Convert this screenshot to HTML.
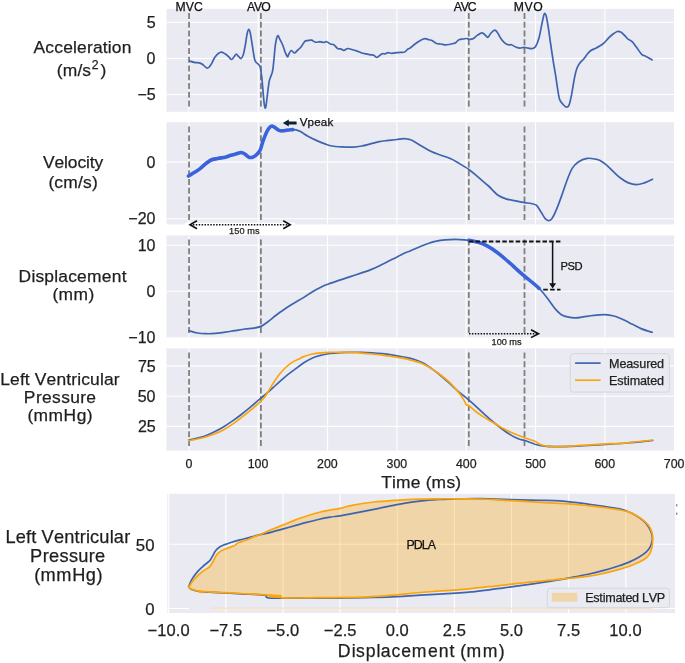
<!DOCTYPE html><html><head><meta charset="utf-8"><style>html,body{margin:0;padding:0;background:#fff;}svg{display:block;will-change:transform}text{font-family:"Liberation Sans",sans-serif;stroke:currentColor;stroke-width:0.25px;paint-order:stroke}</style></head><body>
<svg width="685" height="663" viewBox="0 0 685 663">
<rect x="166.5" y="8.9" width="507.5" height="102.9" fill="#EAEAF2"/>
<clipPath id="c0"><rect x="166.5" y="8.9" width="507.5" height="102.9"/></clipPath>
<line x1="188.90" x2="188.90" y1="8.9" y2="111.8" stroke="#fff" stroke-width="1.1"/>
<line x1="258.23" x2="258.23" y1="8.9" y2="111.8" stroke="#fff" stroke-width="1.1"/>
<line x1="327.56" x2="327.56" y1="8.9" y2="111.8" stroke="#fff" stroke-width="1.1"/>
<line x1="396.89" x2="396.89" y1="8.9" y2="111.8" stroke="#fff" stroke-width="1.1"/>
<line x1="466.22" x2="466.22" y1="8.9" y2="111.8" stroke="#fff" stroke-width="1.1"/>
<line x1="535.55" x2="535.55" y1="8.9" y2="111.8" stroke="#fff" stroke-width="1.1"/>
<line x1="604.88" x2="604.88" y1="8.9" y2="111.8" stroke="#fff" stroke-width="1.1"/>
<rect x="166.5" y="122.2" width="507.5" height="102.2" fill="#EAEAF2"/>
<clipPath id="c1"><rect x="166.5" y="122.2" width="507.5" height="102.2"/></clipPath>
<line x1="188.90" x2="188.90" y1="122.2" y2="224.4" stroke="#fff" stroke-width="1.1"/>
<line x1="258.23" x2="258.23" y1="122.2" y2="224.4" stroke="#fff" stroke-width="1.1"/>
<line x1="327.56" x2="327.56" y1="122.2" y2="224.4" stroke="#fff" stroke-width="1.1"/>
<line x1="396.89" x2="396.89" y1="122.2" y2="224.4" stroke="#fff" stroke-width="1.1"/>
<line x1="466.22" x2="466.22" y1="122.2" y2="224.4" stroke="#fff" stroke-width="1.1"/>
<line x1="535.55" x2="535.55" y1="122.2" y2="224.4" stroke="#fff" stroke-width="1.1"/>
<line x1="604.88" x2="604.88" y1="122.2" y2="224.4" stroke="#fff" stroke-width="1.1"/>
<rect x="166.5" y="235.4" width="507.5" height="102.0" fill="#EAEAF2"/>
<clipPath id="c2"><rect x="166.5" y="235.4" width="507.5" height="102.0"/></clipPath>
<line x1="188.90" x2="188.90" y1="235.4" y2="337.4" stroke="#fff" stroke-width="1.1"/>
<line x1="258.23" x2="258.23" y1="235.4" y2="337.4" stroke="#fff" stroke-width="1.1"/>
<line x1="327.56" x2="327.56" y1="235.4" y2="337.4" stroke="#fff" stroke-width="1.1"/>
<line x1="396.89" x2="396.89" y1="235.4" y2="337.4" stroke="#fff" stroke-width="1.1"/>
<line x1="466.22" x2="466.22" y1="235.4" y2="337.4" stroke="#fff" stroke-width="1.1"/>
<line x1="535.55" x2="535.55" y1="235.4" y2="337.4" stroke="#fff" stroke-width="1.1"/>
<line x1="604.88" x2="604.88" y1="235.4" y2="337.4" stroke="#fff" stroke-width="1.1"/>
<rect x="166.5" y="348.4" width="507.5" height="102.2" fill="#EAEAF2"/>
<clipPath id="c3"><rect x="166.5" y="348.4" width="507.5" height="102.2"/></clipPath>
<line x1="188.90" x2="188.90" y1="348.4" y2="450.6" stroke="#fff" stroke-width="1.1"/>
<line x1="258.23" x2="258.23" y1="348.4" y2="450.6" stroke="#fff" stroke-width="1.1"/>
<line x1="327.56" x2="327.56" y1="348.4" y2="450.6" stroke="#fff" stroke-width="1.1"/>
<line x1="396.89" x2="396.89" y1="348.4" y2="450.6" stroke="#fff" stroke-width="1.1"/>
<line x1="466.22" x2="466.22" y1="348.4" y2="450.6" stroke="#fff" stroke-width="1.1"/>
<line x1="535.55" x2="535.55" y1="348.4" y2="450.6" stroke="#fff" stroke-width="1.1"/>
<line x1="604.88" x2="604.88" y1="348.4" y2="450.6" stroke="#fff" stroke-width="1.1"/>
<line x1="166.5" x2="674.0" y1="22.20" y2="22.20" stroke="#fff" stroke-width="1.1"/>
<line x1="166.5" x2="674.0" y1="58.50" y2="58.50" stroke="#fff" stroke-width="1.1"/>
<line x1="166.5" x2="674.0" y1="94.50" y2="94.50" stroke="#fff" stroke-width="1.1"/>
<line x1="166.5" x2="674.0" y1="162.10" y2="162.10" stroke="#fff" stroke-width="1.1"/>
<line x1="166.5" x2="674.0" y1="218.70" y2="218.70" stroke="#fff" stroke-width="1.1"/>
<line x1="166.5" x2="674.0" y1="245.30" y2="245.30" stroke="#fff" stroke-width="1.1"/>
<line x1="166.5" x2="674.0" y1="291.30" y2="291.30" stroke="#fff" stroke-width="1.1"/>
<line x1="166.5" x2="674.0" y1="365.90" y2="365.90" stroke="#fff" stroke-width="1.1"/>
<line x1="166.5" x2="674.0" y1="396.30" y2="396.30" stroke="#fff" stroke-width="1.1"/>
<line x1="166.5" x2="674.0" y1="426.40" y2="426.40" stroke="#fff" stroke-width="1.1"/>
<line x1="189.05" x2="189.05" y1="13.1" y2="108.3" stroke="#7f7f7f" stroke-width="1.8" stroke-dasharray="6 2.75"/>
<line x1="260.90" x2="260.90" y1="13.1" y2="108.3" stroke="#7f7f7f" stroke-width="1.8" stroke-dasharray="6 2.75"/>
<line x1="468.80" x2="468.80" y1="13.1" y2="108.3" stroke="#7f7f7f" stroke-width="1.8" stroke-dasharray="6 2.75"/>
<line x1="524.50" x2="524.50" y1="13.1" y2="108.3" stroke="#7f7f7f" stroke-width="1.8" stroke-dasharray="6 2.75"/>
<line x1="189.05" x2="189.05" y1="126.4" y2="220.9" stroke="#7f7f7f" stroke-width="1.8" stroke-dasharray="6 2.75"/>
<line x1="260.90" x2="260.90" y1="126.4" y2="220.9" stroke="#7f7f7f" stroke-width="1.8" stroke-dasharray="6 2.75"/>
<line x1="468.80" x2="468.80" y1="126.4" y2="220.9" stroke="#7f7f7f" stroke-width="1.8" stroke-dasharray="6 2.75"/>
<line x1="524.50" x2="524.50" y1="126.4" y2="220.9" stroke="#7f7f7f" stroke-width="1.8" stroke-dasharray="6 2.75"/>
<line x1="189.05" x2="189.05" y1="239.6" y2="333.9" stroke="#7f7f7f" stroke-width="1.8" stroke-dasharray="6 2.75"/>
<line x1="260.90" x2="260.90" y1="239.6" y2="333.9" stroke="#7f7f7f" stroke-width="1.8" stroke-dasharray="6 2.75"/>
<line x1="468.80" x2="468.80" y1="239.6" y2="333.9" stroke="#7f7f7f" stroke-width="1.8" stroke-dasharray="6 2.75"/>
<line x1="524.50" x2="524.50" y1="239.6" y2="333.9" stroke="#7f7f7f" stroke-width="1.8" stroke-dasharray="6 2.75"/>
<line x1="189.05" x2="189.05" y1="352.6" y2="447.1" stroke="#7f7f7f" stroke-width="1.8" stroke-dasharray="6 2.75"/>
<line x1="260.90" x2="260.90" y1="352.6" y2="447.1" stroke="#7f7f7f" stroke-width="1.8" stroke-dasharray="6 2.75"/>
<line x1="468.80" x2="468.80" y1="352.6" y2="447.1" stroke="#7f7f7f" stroke-width="1.8" stroke-dasharray="6 2.75"/>
<line x1="524.50" x2="524.50" y1="352.6" y2="447.1" stroke="#7f7f7f" stroke-width="1.8" stroke-dasharray="6 2.75"/>
<path d="M189.5,61.0 C190.3,61.2 192.5,62.1 194.1,62.4 C195.7,62.7 197.9,62.5 199.3,62.8 C200.7,63.1 201.1,63.4 202.4,64.3 C203.7,65.2 205.9,68.0 207.3,68.1 C208.7,68.2 209.4,67.0 210.7,65.1 C212.0,63.2 213.6,58.9 215.2,56.8 C216.8,54.7 218.9,52.8 220.5,52.3 C222.1,51.8 223.6,53.0 225.0,53.8 C226.4,54.5 227.7,55.8 228.8,56.8 C229.9,57.8 230.6,59.5 231.5,59.5 C232.4,59.5 233.3,57.7 234.1,56.8 C234.9,55.9 235.6,54.1 236.3,54.1 C237.1,54.1 237.8,55.8 238.6,56.5 C239.3,57.2 240.1,58.8 240.8,58.6 C241.6,58.4 242.3,57.6 243.1,55.3 C243.9,53.0 244.7,48.4 245.4,44.7 C246.1,41.1 246.6,36.0 247.2,33.4 C247.8,30.8 248.2,29.4 248.7,29.3 C249.2,29.2 249.6,30.0 250.2,32.6 C250.8,35.2 251.5,40.4 252.2,44.7 C252.9,49.0 253.8,55.4 254.4,58.3 C255.0,61.2 255.3,61.1 255.9,62.1 C256.5,63.1 257.3,63.1 258.0,64.0 C258.7,64.9 259.7,65.1 260.3,67.4 C260.9,69.7 261.3,73.4 261.8,77.9 C262.3,82.4 262.9,90.0 263.3,94.5 C263.7,99.0 264.0,102.9 264.4,105.1 C264.8,107.3 265.2,109.1 265.6,107.8 C266.1,106.5 266.5,102.0 267.1,97.5 C267.7,93.0 268.4,85.2 269.3,80.9 C270.2,76.6 271.6,75.4 272.4,71.9 C273.2,68.4 273.4,64.3 273.9,59.8 C274.4,55.3 274.8,48.7 275.4,44.7 C276.0,40.7 276.9,36.6 277.6,35.7 C278.4,34.8 279.0,37.8 279.9,39.4 C280.8,41.0 282.0,43.4 282.9,45.5 C283.8,47.6 284.4,50.4 285.2,52.3 C286.0,54.2 286.9,56.5 287.5,56.8 C288.1,57.0 288.4,54.8 289.0,53.8 C289.6,52.8 290.3,50.6 291.2,50.5 C292.1,50.4 293.5,53.0 294.5,53.0 C295.5,53.0 296.2,51.5 297.3,50.5 C298.4,49.5 299.8,48.5 301.0,47.0 C302.2,45.5 303.7,42.5 304.8,41.4 C305.9,40.3 306.7,40.8 307.8,40.6 C308.9,40.4 310.3,39.9 311.6,40.2 C312.9,40.5 314.0,42.0 315.4,42.2 C316.8,42.5 318.5,41.7 319.9,41.7 C321.3,41.8 322.6,42.5 323.7,42.5 C324.8,42.5 325.6,41.5 326.7,41.7 C327.8,42.0 329.3,43.5 330.5,44.0 C331.7,44.5 332.6,44.0 333.8,44.7 C335.0,45.5 336.4,47.8 337.5,48.5 C338.6,49.2 339.5,48.6 340.6,48.9 C341.7,49.2 342.7,50.4 343.9,50.3 C345.1,50.2 346.4,48.6 347.8,48.5 C349.2,48.4 351.0,49.3 352.6,49.7 C354.2,50.1 355.7,50.6 357.2,51.1 C358.7,51.6 360.2,52.5 361.7,53.0 C363.2,53.5 364.7,53.5 366.2,53.8 C367.7,54.1 369.5,54.5 370.8,54.8 C372.1,55.0 372.8,54.8 373.8,55.3 C374.8,55.8 375.9,57.4 376.8,57.5 C377.7,57.6 378.2,56.6 379.1,56.0 C380.0,55.4 381.1,54.2 382.1,53.8 C383.1,53.4 384.1,54.0 385.1,53.8 C386.1,53.6 387.0,52.8 388.1,52.7 C389.2,52.6 390.5,53.3 391.9,53.3 C393.3,53.3 395.0,52.9 396.4,52.7 C397.8,52.5 398.8,52.4 400.2,52.3 C401.6,52.2 403.4,52.5 404.7,52.0 C405.9,51.5 406.8,49.9 407.7,49.2 C408.6,48.6 408.8,49.0 410.0,48.1 C411.2,47.2 413.4,45.2 415.0,44.0 C416.6,42.8 418.2,41.6 419.9,40.7 C421.5,39.8 423.4,38.9 424.9,38.7 C426.4,38.6 427.9,39.5 429.1,39.8 C430.4,40.1 431.2,40.1 432.4,40.7 C433.6,41.3 435.1,43.0 436.5,43.5 C437.9,44.0 439.3,43.8 440.7,44.0 C442.1,44.2 443.4,44.7 444.8,44.8 C446.2,44.9 447.6,44.7 449.0,44.5 C450.4,44.3 452.0,43.8 453.1,43.5 C454.2,43.2 454.6,43.4 455.6,42.8 C456.6,42.2 457.6,40.4 458.9,39.8 C460.1,39.2 461.9,39.2 463.1,39.0 C464.4,38.8 465.3,38.5 466.4,38.5 C467.5,38.5 468.6,39.3 469.7,39.3 C470.8,39.3 471.8,39.4 473.0,38.7 C474.2,38.1 475.7,36.4 477.2,35.4 C478.7,34.4 480.8,32.8 482.2,32.9 C483.6,33.0 484.8,35.0 485.8,35.7 C486.8,36.4 487.2,37.7 488.0,37.3 C488.8,36.9 489.7,34.4 490.8,33.2 C491.9,32.0 493.5,30.3 494.6,30.2 C495.7,30.1 496.4,31.1 497.4,32.4 C498.4,33.7 499.6,36.6 500.7,38.2 C501.8,39.9 502.9,41.2 504.1,42.3 C505.4,43.4 507.0,44.4 508.2,44.8 C509.4,45.2 510.2,44.4 511.5,44.8 C512.8,45.2 514.3,46.5 515.7,47.0 C517.1,47.5 518.4,48.1 519.8,48.1 C521.2,48.1 522.6,47.3 524.0,47.3 C525.4,47.3 526.7,47.9 528.1,48.1 C529.5,48.3 531.0,48.9 532.3,48.6 C533.5,48.3 534.5,48.2 535.6,46.5 C536.7,44.8 537.9,41.8 538.9,38.2 C539.9,34.6 540.9,28.8 541.7,24.9 C542.5,21.0 543.3,16.8 543.9,14.9 C544.5,13.0 544.7,13.3 545.1,13.6 C545.5,13.9 545.9,14.2 546.4,16.6 C546.9,19.0 547.7,23.8 548.4,28.2 C549.1,32.6 549.7,37.9 550.5,43.2 C551.3,48.5 552.2,54.5 553.0,59.8 C553.8,65.0 554.7,69.7 555.5,74.7 C556.3,79.7 557.0,85.4 557.7,89.6 C558.4,93.8 558.8,97.2 559.7,99.6 C560.6,102.0 561.8,102.9 562.9,104.2 C564.0,105.5 565.4,107.1 566.4,107.2 C567.4,107.3 568.1,107.2 569.0,105.1 C569.9,103.0 570.7,99.0 571.6,94.6 C572.5,90.2 573.4,83.2 574.3,78.8 C575.2,74.4 576.0,70.9 576.9,68.3 C577.8,65.7 578.3,65.0 579.5,63.4 C580.7,61.8 582.6,60.3 583.9,58.7 C585.2,57.1 586.2,55.4 587.4,54.0 C588.6,52.6 589.6,51.4 590.9,50.5 C592.2,49.6 593.8,49.2 595.3,48.5 C596.8,47.8 598.2,47.0 599.7,46.1 C601.2,45.2 602.7,44.2 604.1,42.9 C605.5,41.6 607.0,39.7 608.4,38.2 C609.8,36.8 611.3,35.3 612.8,34.2 C614.3,33.1 615.9,31.9 617.2,31.5 C618.5,31.1 619.5,31.5 620.7,32.1 C621.9,32.7 623.0,33.9 624.2,35.0 C625.4,36.1 626.4,37.8 627.7,38.9 C629.0,40.0 630.6,40.3 632.1,41.7 C633.6,43.1 634.9,45.2 636.5,47.3 C638.1,49.4 640.1,52.8 641.7,54.3 C643.3,55.8 644.4,55.5 646.1,56.4 C647.9,57.3 651.2,59.3 652.2,59.9" fill="none" stroke="#3F64AE" stroke-width="1.70" stroke-linejoin="round" stroke-linecap="round" />
<path d="M292.8,129.6 C293.4,129.7 294.8,129.6 296.1,129.9 C297.4,130.2 298.6,130.6 300.5,131.6 C302.4,132.6 304.9,134.5 307.5,136.0 C310.1,137.5 313.4,139.1 316.3,140.4 C319.2,141.7 322.4,143.0 325.0,143.9 C327.6,144.8 329.1,145.5 332.0,146.0 C334.9,146.5 339.1,146.7 342.6,146.9 C346.1,147.1 349.9,147.2 353.1,147.1 C356.3,146.9 358.9,146.5 361.8,146.0 C364.7,145.5 367.7,144.6 370.6,143.9 C373.5,143.2 376.4,142.2 379.3,141.6 C382.2,141.0 385.2,140.8 388.1,140.4 C391.0,140.1 394.3,139.8 396.9,139.5 C399.5,139.2 402.0,138.8 403.9,138.7 C405.8,138.6 406.6,138.9 408.0,139.2 C409.4,139.5 410.1,139.3 412.3,140.4 C414.5,141.5 417.9,143.9 421.0,145.7 C424.1,147.5 427.5,149.8 430.7,151.3 C433.9,152.9 436.9,153.8 440.3,155.0 C443.7,156.2 447.6,157.4 450.8,158.8 C454.0,160.2 456.5,161.9 459.6,163.7 C462.7,165.5 466.0,167.4 469.2,169.7 C472.4,172.0 475.6,175.0 478.8,177.7 C482.0,180.4 485.3,183.1 488.5,186.0 C491.7,188.9 495.0,193.0 498.1,195.2 C501.2,197.4 503.8,198.1 506.9,199.1 C510.0,200.1 514.1,200.6 517.0,201.2 C519.9,201.8 522.2,202.2 524.5,202.6 C526.8,203.0 529.0,203.1 531.0,203.5 C533.0,203.9 534.7,203.9 536.3,205.2 C537.9,206.5 539.2,209.2 540.7,211.4 C542.2,213.6 543.7,216.9 545.0,218.4 C546.3,219.9 547.3,220.6 548.5,220.6 C549.7,220.6 550.7,220.2 552.0,218.4 C553.3,216.6 554.8,213.4 556.4,209.6 C558.0,205.8 560.0,200.4 561.7,195.6 C563.5,190.8 565.1,185.2 566.9,180.7 C568.6,176.2 570.3,171.5 572.2,168.4 C574.1,165.3 575.8,163.7 578.3,162.0 C580.8,160.3 584.2,158.9 587.1,158.4 C590.0,157.9 593.6,158.8 595.8,159.2 C597.9,159.6 598.1,159.6 600.0,160.6 C601.9,161.6 604.6,163.5 606.9,165.4 C609.2,167.3 611.6,170.0 613.9,172.2 C616.2,174.3 618.5,176.6 620.8,178.3 C623.1,180.0 625.2,181.5 627.8,182.6 C630.4,183.7 633.5,184.7 636.4,184.7 C639.3,184.7 642.4,183.5 645.1,182.6 C647.8,181.7 651.2,179.8 652.4,179.2" fill="none" stroke="#3F64AE" stroke-width="1.70" stroke-linejoin="round" stroke-linecap="round" />
<path d="M188.5,176.0 C189.4,175.4 192.3,173.8 194.2,172.6 C196.1,171.4 197.9,170.4 199.8,168.9 C201.7,167.4 203.6,165.3 205.5,163.8 C207.4,162.3 209.1,160.9 211.1,160.0 C213.1,159.1 215.3,159.0 217.7,158.5 C220.1,158.0 223.1,157.7 225.3,157.2 C227.5,156.7 229.0,155.9 230.9,155.3 C232.8,154.7 234.9,154.3 236.6,153.8 C238.3,153.3 239.9,152.4 241.3,152.5 C242.7,152.6 243.8,153.5 245.1,154.3 C246.4,155.1 247.7,156.7 248.9,157.2 C250.2,157.7 251.3,157.6 252.6,157.2 C253.8,156.8 255.1,156.1 256.4,154.9 C257.7,153.7 259.1,152.3 260.2,150.0 C261.3,147.7 261.9,144.2 263.0,141.1 C264.1,138.0 265.7,134.0 266.8,131.7 C267.9,129.4 268.7,128.3 269.6,127.4 C270.5,126.5 271.2,125.9 272.1,126.0 C273.1,126.1 274.1,127.2 275.3,127.9 C276.5,128.6 277.9,129.9 279.1,130.4 C280.4,130.9 281.4,130.9 282.8,130.8 C284.2,130.7 285.8,130.2 287.5,130.0 C289.2,129.8 291.9,129.7 292.8,129.6" fill="none" stroke="#3962DC" stroke-width="3.60" stroke-linejoin="round" stroke-linecap="round" />
<path d="M189.1,330.7 C190.5,331.1 194.6,332.5 197.5,333.0 C200.4,333.5 203.4,333.6 206.3,333.7 C209.2,333.8 211.8,333.7 215.0,333.4 C218.2,333.1 222.3,332.6 225.5,332.1 C228.7,331.7 231.1,331.2 234.3,330.7 C237.5,330.2 241.6,329.4 244.8,329.0 C248.0,328.6 250.9,328.5 253.6,328.1 C256.3,327.7 258.6,327.4 260.9,326.4 C263.2,325.4 265.0,323.9 267.6,322.0 C270.2,320.1 273.5,317.2 276.4,315.0 C279.3,312.8 282.2,310.8 285.1,308.8 C288.0,306.8 290.8,305.1 293.9,303.2 C297.0,301.3 300.7,299.3 303.8,297.4 C306.9,295.5 309.6,293.4 312.5,291.7 C315.4,289.9 318.4,288.3 321.3,286.9 C324.2,285.5 326.8,284.6 330.0,283.4 C333.2,282.2 337.1,281.1 340.6,279.9 C344.1,278.7 347.6,277.6 351.1,276.4 C354.6,275.2 358.4,274.0 361.6,272.9 C364.8,271.8 367.4,271.1 370.3,269.9 C373.2,268.7 376.2,267.3 379.1,265.9 C382.0,264.5 385.0,262.9 387.9,261.5 C390.8,260.1 393.7,258.6 396.6,257.2 C399.5,255.8 403.2,253.8 405.4,252.8 C407.6,251.8 407.8,251.9 410.0,251.0 C412.2,250.1 415.9,248.4 418.8,247.2 C421.7,246.0 424.6,244.7 427.5,243.7 C430.4,242.7 433.4,241.8 436.3,241.2 C439.2,240.5 441.8,240.1 445.0,239.8 C448.2,239.5 452.3,239.3 455.5,239.3 C458.7,239.3 462.1,239.6 464.3,239.8 C466.6,240.0 468.2,240.2 469.0,240.3" fill="none" stroke="#3F64AE" stroke-width="1.70" stroke-linejoin="round" stroke-linecap="round" />
<path d="M539.1,288.3 C540.1,289.4 543.2,292.9 545.1,295.2 C547.0,297.5 548.7,300.0 550.5,302.4 C552.3,304.8 554.1,307.6 555.9,309.6 C557.7,311.7 559.3,313.4 561.4,314.7 C563.5,316.0 566.2,316.7 568.6,317.2 C571.0,317.7 573.4,317.9 575.8,317.8 C578.2,317.8 580.1,317.3 583.1,316.9 C586.1,316.5 590.4,315.8 594.0,315.4 C597.6,315.0 601.5,314.6 604.8,314.7 C608.1,314.8 610.9,315.2 613.9,316.0 C616.9,316.8 619.9,318.2 622.9,319.6 C625.9,321.0 629.0,322.6 632.0,324.1 C635.0,325.6 637.6,327.2 641.0,328.6 C644.4,330.0 650.3,331.7 652.2,332.3" fill="none" stroke="#3F64AE" stroke-width="1.70" stroke-linejoin="round" stroke-linecap="round" />
<path d="M469.0,240.3 C470.5,240.6 475.1,241.4 478.1,242.3 C481.1,243.2 484.1,244.3 487.1,245.9 C490.1,247.5 493.2,249.5 496.2,251.7 C499.2,253.9 502.2,256.4 505.2,259.0 C508.2,261.6 511.3,264.4 514.3,267.1 C517.3,269.8 520.3,272.6 523.3,275.2 C526.3,277.8 529.8,280.3 532.4,282.5 C535.0,284.7 538.0,287.3 539.1,288.3" fill="none" stroke="#3962DC" stroke-width="3.60" stroke-linejoin="round" stroke-linecap="round" />
<path d="M188.8,440.2 C190.2,439.9 194.6,438.9 197.5,438.1 C200.4,437.3 203.4,436.6 206.3,435.5 C209.2,434.4 212.1,433.1 215.0,431.6 C217.9,430.1 220.9,428.5 223.8,426.7 C226.7,424.9 229.7,422.9 232.6,420.9 C235.5,418.9 238.4,416.8 241.3,414.5 C244.2,412.2 247.2,409.8 250.1,407.4 C253.0,405.0 255.9,402.4 258.8,399.9 C261.7,397.4 264.7,395.1 267.6,392.6 C270.5,390.1 273.5,387.3 276.4,384.7 C279.3,382.1 282.2,379.2 285.1,376.8 C288.0,374.4 290.8,372.4 293.9,370.1 C297.0,367.8 300.7,364.8 303.8,362.8 C306.9,360.8 309.6,359.3 312.5,358.0 C315.4,356.7 318.4,355.9 321.3,355.2 C324.2,354.4 326.8,353.9 330.0,353.5 C333.2,353.1 337.1,352.8 340.6,352.6 C344.1,352.4 347.6,352.4 351.1,352.3 C354.6,352.2 358.1,352.2 361.6,352.3 C365.1,352.4 368.6,352.6 372.1,352.8 C375.6,353.0 379.1,353.3 382.6,353.7 C386.1,354.1 389.6,354.6 393.1,355.1 C396.6,355.7 400.2,356.3 403.6,357.0 C407.1,357.7 410.7,358.3 413.8,359.3 C416.9,360.3 419.6,361.3 422.5,362.8 C425.4,364.3 428.4,366.4 431.3,368.4 C434.2,370.4 437.1,372.6 440.0,375.0 C442.9,377.4 445.9,380.0 448.8,382.6 C451.7,385.2 454.7,388.3 457.6,390.8 C460.5,393.3 463.4,395.3 466.3,397.8 C469.2,400.3 472.2,403.1 475.1,405.7 C478.0,408.3 480.9,411.0 483.8,413.6 C486.7,416.2 489.7,419.0 492.6,421.5 C495.5,424.0 498.5,426.3 501.4,428.5 C504.3,430.7 507.2,432.9 510.1,434.6 C513.0,436.4 516.4,438.0 518.9,439.0 C521.4,440.0 522.2,439.6 524.9,440.5 C527.6,441.4 531.6,443.2 534.9,444.2 C538.2,445.1 541.5,445.8 544.8,446.2 C548.1,446.6 549.3,446.7 554.7,446.7 C560.1,446.7 569.2,446.5 577.1,446.2 C585.0,445.9 593.6,445.2 601.9,444.7 C610.2,444.2 618.2,443.7 626.7,443.0 C635.2,442.3 648.4,440.9 652.7,440.5" fill="none" stroke="#3F64AE" stroke-width="1.70" stroke-linejoin="round" stroke-linecap="round" />
<path d="M188.8,440.7 C190.2,440.4 194.6,439.7 197.5,439.0 C200.4,438.3 203.4,437.6 206.3,436.7 C209.2,435.8 212.1,434.9 215.0,433.7 C217.9,432.5 220.9,431.3 223.8,429.7 C226.7,428.1 229.7,426.1 232.6,424.1 C235.5,422.1 238.4,419.9 241.3,417.6 C244.2,415.4 247.2,413.0 250.1,410.6 C253.0,408.2 256.5,405.2 258.8,403.1 C261.1,401.0 262.6,399.6 264.1,397.8 C265.6,396.1 266.1,394.9 267.6,392.6 C269.1,390.3 271.1,386.6 272.9,383.8 C274.6,381.0 276.1,378.5 278.1,375.9 C280.1,373.3 282.8,370.2 285.1,368.0 C287.4,365.8 289.6,364.0 292.1,362.4 C294.6,360.8 298.1,359.4 300.0,358.4 C301.9,357.4 301.7,357.3 303.8,356.6 C305.9,355.9 309.6,354.6 312.5,354.0 C315.4,353.4 318.4,353.1 321.3,352.8 C324.2,352.5 326.8,352.4 330.0,352.3 C333.2,352.2 337.1,352.3 340.6,352.3 C344.1,352.3 347.6,352.3 351.1,352.4 C354.6,352.5 358.1,352.8 361.6,353.1 C365.1,353.4 368.6,353.7 372.1,354.0 C375.6,354.3 379.1,354.7 382.6,355.1 C386.1,355.5 389.6,356.1 393.1,356.6 C396.6,357.2 400.2,357.7 403.6,358.4 C407.1,359.1 410.7,360.1 413.8,361.0 C416.9,361.9 419.6,362.5 422.5,363.7 C425.4,364.9 428.4,366.6 431.3,368.4 C434.2,370.2 437.1,372.3 440.0,374.5 C442.9,376.7 446.2,379.3 448.8,381.7 C451.4,384.1 453.8,386.8 455.8,389.1 C457.9,391.4 459.6,393.7 461.1,395.7 C462.6,397.7 463.7,399.8 464.6,401.3 C465.5,402.8 465.6,404.1 466.3,404.8 C467.0,405.5 467.4,404.7 468.9,405.7 C470.4,406.7 472.6,409.1 475.1,411.0 C477.6,412.9 480.9,415.2 483.8,417.1 C486.7,419.0 489.7,420.6 492.6,422.3 C495.5,424.1 498.5,426.0 501.4,427.6 C504.3,429.2 507.2,430.7 510.1,432.0 C513.0,433.3 516.4,434.5 518.9,435.5 C521.4,436.5 522.2,437.0 524.9,438.0 C527.6,439.0 532.4,440.3 534.9,441.3 C537.4,442.3 537.7,443.4 539.8,444.2 C541.9,445.0 544.8,445.8 547.3,446.2 C549.8,446.6 549.7,446.8 554.7,446.7 C559.7,446.6 569.2,446.1 577.1,445.7 C585.0,445.3 593.6,444.7 601.9,444.2 C610.2,443.7 618.2,443.5 626.7,442.8 C635.2,442.1 648.4,440.5 652.7,440.0" fill="none" stroke="#FBA50C" stroke-width="1.70" stroke-linejoin="round" stroke-linecap="round" />
<text x="175.55 185.75 193.91" y="10.90" font-size="12.20" fill="#111" color="#111" >MVC</text>
<text x="246.90 254.12 261.34" y="10.90" font-size="12.20" fill="#111" color="#111" >AVO</text>
<text x="453.80 460.76 467.71" y="10.90" font-size="12.20" fill="#111" color="#111" >AVC</text>
<text x="513.65 524.47 533.14" y="10.90" font-size="12.20" fill="#111" color="#111" >MVO</text>
<path d="M282.8,123.1 L288.8,119.6 L288.8,121.6 L296.6,121.6 L296.6,124.6 L288.8,124.6 L288.8,126.6 Z" fill="#0e2234"/>
<text x="299.70 307.62 314.22 320.82 327.42" y="126.20" font-size="11.60" fill="#111" color="#111" >Vpeak</text>
<rect x="185" y="222.6" width="110" height="4" fill="#fff"/>
<line x1="190" x2="290" y1="224.8" y2="224.8" stroke="#111" stroke-width="1.6" stroke-dasharray="1.5 1.4"/>
<path d="M197,220.8 L190,224.8 L197,228.8 M283.2,220.8 L290.2,224.8 L283.2,228.8" fill="none" stroke="#111" stroke-width="1.6"/>
<text x="229.03 234.20 239.38 244.55 247.14 254.89" y="233.70" font-size="9.20" fill="#222" color="#222" >150 ms</text>
<line x1="468.8" x2="560.5" y1="241.5" y2="241.5" stroke="#111" stroke-width="1.8" stroke-dasharray="4.5 2.2"/>
<line x1="543.2" x2="560.5" y1="289.6" y2="289.6" stroke="#111" stroke-width="1.8" stroke-dasharray="4.6 2.3"/>
<line x1="552.6" x2="552.6" y1="241.4" y2="284" stroke="#111" stroke-width="1.5"/>
<path d="M549.1,283.2 L556.1,283.2 L552.6,288.6 Z" fill="#111"/>
<text x="560.52 567.51 574.50" y="269.80" font-size="11.20" fill="#111" color="#111" >PSD</text>
<line x1="469" x2="538" y1="333.7" y2="333.7" stroke="#111" stroke-width="1.6" stroke-dasharray="1.5 1.4"/>
<path d="M531,329.8 L538.5,333.7 L531,337.6" fill="none" stroke="#111" stroke-width="1.6"/>
<text x="491.62 496.68 501.74 506.79 509.32 516.89" y="345.30" font-size="9.20" fill="#222" color="#222" >100 ms</text>
<rect x="570.3" y="353.7" width="99.1" height="38.4" rx="3" fill="#EAEAF2" stroke="#D4D4DA" stroke-width="0.9"/>
<line x1="575.1" x2="600.6" y1="363.1" y2="363.1" stroke="#3F64AE" stroke-width="1.7"/>
<line x1="575.1" x2="600.6" y1="380.2" y2="380.2" stroke="#FBA50C" stroke-width="1.7"/>
<text x="609.12 619.39 626.25 633.11 639.27 646.13 650.24 657.10" y="367.80" font-size="12.60" fill="#1e1e1e" color="#1e1e1e" >Measured</text>
<text x="609.12 617.34 623.51 626.94 629.68 639.95 646.81 650.24 657.10" y="384.70" font-size="12.60" fill="#1e1e1e" color="#1e1e1e" >Estimated</text>
<text x="146.85" y="27.80" font-size="16.00" fill="#1e1e1e" color="#1e1e1e" >5</text>
<text x="146.60" y="64.10" font-size="16.00" fill="#1e1e1e" color="#1e1e1e" >0</text>
<text x="137.51 146.85" y="100.10" font-size="16.00" fill="#1e1e1e" color="#1e1e1e" >−5</text>
<text x="146.60" y="167.70" font-size="16.00" fill="#1e1e1e" color="#1e1e1e" >0</text>
<text x="128.36 137.70 146.60" y="224.30" font-size="16.00" fill="#1e1e1e" color="#1e1e1e" >−20</text>
<text x="137.70 146.60" y="250.90" font-size="16.00" fill="#1e1e1e" color="#1e1e1e" >10</text>
<text x="146.60" y="296.90" font-size="16.00" fill="#1e1e1e" color="#1e1e1e" >0</text>
<text x="128.36 137.70 146.60" y="343.20" font-size="16.00" fill="#1e1e1e" color="#1e1e1e" >−10</text>
<text x="137.95 146.85" y="371.50" font-size="16.00" fill="#1e1e1e" color="#1e1e1e" >75</text>
<text x="137.70 146.60" y="401.90" font-size="16.00" fill="#1e1e1e" color="#1e1e1e" >50</text>
<text x="137.95 146.85" y="432.00" font-size="16.00" fill="#1e1e1e" color="#1e1e1e" >25</text>
<text x="185.41" y="468.10" font-size="12.40" fill="#1e1e1e" color="#1e1e1e" >0</text>
<text x="247.65 254.55 261.45" y="468.10" font-size="12.40" fill="#1e1e1e" color="#1e1e1e" >100</text>
<text x="317.08 323.98 330.87" y="468.10" font-size="12.40" fill="#1e1e1e" color="#1e1e1e" >200</text>
<text x="386.51 393.40 400.30" y="468.10" font-size="12.40" fill="#1e1e1e" color="#1e1e1e" >300</text>
<text x="455.93 462.83 469.73" y="468.10" font-size="12.40" fill="#1e1e1e" color="#1e1e1e" >400</text>
<text x="525.17 532.06 538.96" y="468.10" font-size="12.40" fill="#1e1e1e" color="#1e1e1e" >500</text>
<text x="594.40 601.30 608.19" y="468.10" font-size="12.40" fill="#1e1e1e" color="#1e1e1e" >600</text>
<text x="663.73 670.63 677.52" y="468.10" font-size="12.40" fill="#1e1e1e" color="#1e1e1e" >700</text>
<text x="381.13 392.00 395.96 410.79 420.70 425.64 431.57 446.40 455.31" y="487.70" font-size="17.40" fill="#1e1e1e" color="#1e1e1e" >Time (ms)</text>
<text x="33.40 45.31 54.23 63.16 73.08 77.05 86.98 92.92 102.85 107.81 111.77 121.70" y="52.90" font-size="17.40" fill="#1e1e1e" color="#1e1e1e" >Acceleration</text>
<text x="56.78 62.68 77.43 82.34" y="76.00" font-size="17.40" fill="#1e1e1e" color="#1e1e1e" >(m/s</text>
<text x="91.83" y="68.90" font-size="12.20" fill="#1e1e1e" color="#1e1e1e" >2</text>
<text x="100.50" y="76.00" font-size="17.40" fill="#1e1e1e" color="#1e1e1e" >)</text>
<text x="42.90 54.39 63.97 67.80 77.38 85.99 89.81 94.60" y="168.30" font-size="17.40" fill="#1e1e1e" color="#1e1e1e" >Velocity</text>
<text x="48.38 54.33 63.25 78.12 83.08 92.01" y="188.20" font-size="17.40" fill="#1e1e1e" color="#1e1e1e" >(cm/s)</text>
<text x="18.54 31.43 35.40 44.32 54.25 58.21 68.14 77.06 86.99 101.85 111.78 121.71" y="281.50" font-size="17.40" fill="#1e1e1e" color="#1e1e1e" >Displacement</text>
<text x="52.38 58.39 73.40 88.41" y="300.00" font-size="17.40" fill="#1e1e1e" color="#1e1e1e" >(mm)</text>
<text x="0.14 10.03 19.92 24.86 29.79 34.73 46.59 56.48 66.37 71.31 77.23 81.18 90.07 99.95 103.90 113.79" y="384.80" font-size="17.40" fill="#1e1e1e" color="#1e1e1e" >Left Ventricular</text>
<text x="23.84 35.94 41.98 52.06 61.13 70.20 80.29 86.33" y="403.30" font-size="17.40" fill="#1e1e1e" color="#1e1e1e" >Pressure</text>
<text x="27.48 33.50 48.55 63.61 76.66 86.71" y="421.10" font-size="17.40" fill="#1e1e1e" color="#1e1e1e" >(mmHg)</text>
<rect x="167.3" y="493.8" width="507.7" height="119.2" fill="#EAEAF2"/>
<line x1="168.70" x2="168.70" y1="493.8" y2="613.0" stroke="#fff" stroke-width="1.1"/>
<line x1="225.84" x2="225.84" y1="493.8" y2="613.0" stroke="#fff" stroke-width="1.1"/>
<line x1="282.98" x2="282.98" y1="493.8" y2="613.0" stroke="#fff" stroke-width="1.1"/>
<line x1="340.11" x2="340.11" y1="493.8" y2="613.0" stroke="#fff" stroke-width="1.1"/>
<line x1="397.25" x2="397.25" y1="493.8" y2="613.0" stroke="#fff" stroke-width="1.1"/>
<line x1="454.39" x2="454.39" y1="493.8" y2="613.0" stroke="#fff" stroke-width="1.1"/>
<line x1="511.52" x2="511.52" y1="493.8" y2="613.0" stroke="#fff" stroke-width="1.1"/>
<line x1="568.66" x2="568.66" y1="493.8" y2="613.0" stroke="#fff" stroke-width="1.1"/>
<line x1="625.80" x2="625.80" y1="493.8" y2="613.0" stroke="#fff" stroke-width="1.1"/>
<line x1="167.3" x2="675.0" y1="544.30" y2="544.30" stroke="#fff" stroke-width="1.1"/>
<line x1="167.3" x2="675.0" y1="608.50" y2="608.50" stroke="#fff" stroke-width="1.1"/>
<rect x="189" y="606" width="22.5" height="5" fill="#EAEAF2"/>
<line x1="211.5" x2="652.7" y1="608.4" y2="608.4" stroke="rgba(255,165,0,0.3)" stroke-width="1.2"/>
<path d="M188.6,586.6 C188.7,586.7 188.5,587.8 189.1,587.0 C189.7,586.2 190.7,583.7 192.0,582.0 C193.3,580.3 194.9,578.5 196.7,576.7 C198.4,575.0 200.4,573.1 202.5,571.5 C204.6,569.9 207.8,568.5 209.5,566.8 C211.2,565.1 211.8,563.5 213.0,561.5 C214.2,559.5 215.3,556.8 216.5,555.1 C217.7,553.5 218.4,552.7 220.0,551.6 C221.6,550.5 223.6,549.7 225.9,548.7 C228.2,547.7 231.9,546.8 234.0,545.8 C236.1,544.8 236.8,543.5 238.7,542.6 C240.6,541.7 243.0,541.3 245.7,540.3 C248.4,539.3 252.7,537.3 255.1,536.4 C257.5,535.5 257.2,535.9 260.0,534.7 C262.8,533.6 267.8,531.1 271.7,529.5 C275.6,527.9 279.5,526.4 283.4,524.8 C287.3,523.2 291.1,521.6 295.0,520.1 C298.9,518.6 302.8,517.3 306.7,516.0 C310.6,514.7 314.5,513.5 318.4,512.5 C322.3,511.5 326.5,510.7 330.1,510.0 C333.7,509.3 336.4,509.2 340.0,508.4 C343.6,507.6 346.3,506.4 351.9,505.3 C357.5,504.2 366.5,502.8 373.8,502.0 C381.1,501.2 388.4,500.8 395.7,500.3 C403.0,499.8 410.3,499.4 417.6,499.2 C424.9,498.9 432.2,498.9 439.5,498.8 C446.8,498.7 454.6,498.8 461.4,498.8 C468.1,498.8 471.9,498.7 480.0,499.0 C488.1,499.3 499.9,500.1 509.9,500.6 C519.9,501.2 531.5,501.8 539.9,502.3 C548.2,502.8 554.2,503.1 560.0,503.4 C565.8,503.7 569.7,503.9 574.6,504.3 C579.5,504.7 584.3,505.3 589.2,505.8 C594.1,506.3 598.9,506.9 603.8,507.5 C608.7,508.1 614.3,509.0 618.4,509.7 C622.5,510.4 625.4,510.8 628.6,511.9 C631.8,513.0 634.7,514.7 637.4,516.3 C640.1,517.9 642.6,519.6 644.7,521.4 C646.8,523.2 648.5,525.1 649.8,527.2 C651.1,529.3 651.8,531.7 652.3,533.8 C652.8,535.9 652.7,537.6 652.7,539.6 C652.7,541.6 652.5,543.8 652.3,545.5 C652.0,547.2 651.7,548.6 651.2,550.0 C650.7,551.4 650.4,552.7 649.5,554.0 C648.6,555.3 647.9,556.6 646.1,558.0 C644.3,559.4 641.5,561.0 638.8,562.3 C636.1,563.6 633.5,564.8 630.1,566.0 C626.7,567.2 622.8,568.4 618.4,569.6 C614.0,570.8 608.7,572.2 603.8,573.3 C598.9,574.4 594.1,575.5 589.2,576.2 C584.3,577.0 579.5,577.3 574.6,577.8 C569.7,578.3 564.5,578.8 560.0,579.2 C555.5,579.6 552.1,580.0 547.6,580.4 C543.1,580.8 537.9,581.4 533.0,581.9 C528.1,582.4 523.3,582.9 518.4,583.4 C513.5,583.9 508.7,584.5 503.8,585.1 C498.9,585.7 494.1,586.2 489.2,586.7 C484.3,587.2 479.5,587.7 474.6,588.2 C469.7,588.7 469.0,588.9 460.0,589.6 C451.0,590.3 431.1,591.6 420.6,592.5 C410.1,593.4 404.5,594.2 397.2,594.8 C389.9,595.4 385.1,595.9 376.8,596.3 C368.5,596.7 357.3,597.2 347.6,597.4 C337.9,597.6 327.2,597.6 318.4,597.7 C309.6,597.8 301.2,598.0 295.0,598.0 C288.8,598.0 283.8,598.0 281.4,597.6 C278.9,597.2 282.4,596.0 280.3,595.6 C278.2,595.2 272.3,595.3 268.5,595.1 C264.7,594.9 261.9,594.6 257.3,594.3 C252.8,594.0 246.6,593.8 241.2,593.5 C235.8,593.2 230.4,593.0 225.1,592.7 C219.8,592.4 213.5,592.2 209.1,591.9 C204.7,591.6 201.4,591.5 198.7,591.1 C196.0,590.8 194.5,590.3 193.0,589.8 C191.5,589.3 190.5,588.7 189.8,588.2 C189.1,587.7 188.8,586.9 188.6,586.6 Z" fill="rgba(255,165,0,0.3)" stroke="none"/>
<path d="M188.6,586.6 C188.7,586.4 188.5,586.8 189.1,585.5 C189.7,584.2 190.7,581.2 192.0,579.1 C193.3,577.0 194.9,574.7 196.7,572.6 C198.4,570.5 200.4,568.8 202.5,566.8 C204.6,564.8 207.8,562.6 209.5,560.9 C211.2,559.1 211.4,557.9 212.4,556.3 C213.4,554.6 214.3,552.5 215.4,551.0 C216.5,549.5 217.4,548.6 218.9,547.5 C220.4,546.4 222.6,545.5 224.7,544.6 C226.8,543.7 229.2,543.1 231.7,542.3 C234.2,541.5 237.0,540.7 239.9,539.9 C242.8,539.1 246.3,538.4 249.2,537.6 C252.1,536.8 254.8,536.0 257.4,535.3 C260.0,534.6 262.6,534.1 265.0,533.6 C267.4,533.1 268.6,532.9 271.7,532.1 C274.8,531.3 279.5,530.0 283.4,528.9 C287.3,527.8 291.1,526.7 295.0,525.6 C298.9,524.5 302.8,523.4 306.7,522.4 C310.6,521.4 314.5,520.4 318.4,519.5 C322.3,518.6 326.5,517.8 330.1,517.2 C333.7,516.6 336.4,516.4 340.0,515.8 C343.6,515.2 346.3,514.7 351.9,513.6 C357.5,512.5 366.5,510.8 373.8,509.3 C381.1,507.9 388.4,506.2 395.7,504.9 C403.0,503.6 410.3,502.3 417.6,501.4 C424.9,500.5 432.2,499.8 439.5,499.4 C446.8,499.0 454.6,498.9 461.4,498.8 C468.1,498.7 471.9,498.6 480.0,498.7 C488.1,498.8 499.9,499.2 509.9,499.5 C519.9,499.8 531.5,500.1 539.9,500.3 C548.2,500.5 554.2,500.5 560.0,500.9 C565.8,501.2 569.7,501.8 574.6,502.4 C579.5,503.0 584.3,503.6 589.2,504.3 C594.1,505.0 598.9,505.7 603.8,506.4 C608.7,507.1 614.5,507.9 618.4,508.7 C622.3,509.5 624.3,510.1 627.2,511.2 C630.1,512.3 633.2,513.9 635.9,515.5 C638.6,517.1 641.1,518.9 643.2,520.7 C645.3,522.5 647.0,524.6 648.3,526.5 C649.6,528.4 650.5,530.3 651.2,532.3 C651.9,534.2 652.3,536.5 652.4,538.2 C652.5,539.9 652.1,541.0 651.7,542.6 C651.3,544.2 650.7,546.1 649.8,547.7 C648.9,549.3 647.9,550.5 646.1,552.1 C644.3,553.7 641.5,555.6 638.8,557.2 C636.1,558.8 633.5,560.1 630.1,561.6 C626.7,563.1 622.8,564.5 618.4,566.0 C614.0,567.5 608.7,569.1 603.8,570.4 C598.9,571.7 594.1,572.9 589.2,574.0 C584.3,575.1 579.5,575.9 574.6,576.9 C569.7,577.9 564.5,578.9 560.0,579.7 C555.5,580.5 552.1,580.9 547.6,581.6 C543.1,582.3 537.9,583.1 533.0,583.8 C528.1,584.5 523.3,585.1 518.4,585.8 C513.5,586.5 508.7,587.2 503.8,587.9 C498.9,588.6 494.1,589.2 489.2,589.8 C484.3,590.4 479.5,591.1 474.6,591.6 C469.7,592.1 469.0,592.3 460.0,592.9 C451.0,593.5 431.1,594.6 420.6,595.2 C410.1,595.8 404.5,596.2 397.2,596.6 C389.9,597.0 385.1,597.2 376.8,597.4 C368.5,597.6 357.3,597.9 347.6,598.0 C337.9,598.1 327.2,598.1 318.4,598.1 C309.6,598.1 303.3,598.2 295.0,598.2 C286.7,598.2 273.2,598.3 268.5,597.9 C263.8,597.5 268.4,596.1 266.5,595.6 C264.6,595.1 261.5,594.9 257.3,594.6 C253.1,594.3 246.6,594.1 241.2,593.8 C235.8,593.5 230.4,593.3 225.1,593.0 C219.8,592.7 213.5,592.5 209.1,592.2 C204.7,591.9 201.4,591.7 198.7,591.3 C196.0,590.9 194.5,590.5 193.0,590.0 C191.5,589.5 190.5,589.0 189.8,588.4 C189.1,587.8 188.8,586.9 188.6,586.6" fill="none" stroke="#3F64AE" stroke-width="1.70" stroke-linejoin="round" stroke-linecap="round" />
<path d="M188.6,586.6 C188.7,586.7 188.5,587.8 189.1,587.0 C189.7,586.2 190.7,583.7 192.0,582.0 C193.3,580.3 194.9,578.5 196.7,576.7 C198.4,575.0 200.4,573.1 202.5,571.5 C204.6,569.9 207.8,568.5 209.5,566.8 C211.2,565.1 211.8,563.5 213.0,561.5 C214.2,559.5 215.3,556.8 216.5,555.1 C217.7,553.5 218.4,552.7 220.0,551.6 C221.6,550.5 223.6,549.7 225.9,548.7 C228.2,547.7 231.9,546.8 234.0,545.8 C236.1,544.8 236.8,543.5 238.7,542.6 C240.6,541.7 243.0,541.3 245.7,540.3 C248.4,539.3 252.7,537.3 255.1,536.4 C257.5,535.5 257.2,535.9 260.0,534.7 C262.8,533.6 267.8,531.1 271.7,529.5 C275.6,527.9 279.5,526.4 283.4,524.8 C287.3,523.2 291.1,521.6 295.0,520.1 C298.9,518.6 302.8,517.3 306.7,516.0 C310.6,514.7 314.5,513.5 318.4,512.5 C322.3,511.5 326.5,510.7 330.1,510.0 C333.7,509.3 336.4,509.2 340.0,508.4 C343.6,507.6 346.3,506.4 351.9,505.3 C357.5,504.2 366.5,502.8 373.8,502.0 C381.1,501.2 388.4,500.8 395.7,500.3 C403.0,499.8 410.3,499.4 417.6,499.2 C424.9,498.9 432.2,498.9 439.5,498.8 C446.8,498.7 454.6,498.8 461.4,498.8 C468.1,498.8 471.9,498.7 480.0,499.0 C488.1,499.3 499.9,500.1 509.9,500.6 C519.9,501.2 531.5,501.8 539.9,502.3 C548.2,502.8 554.2,503.1 560.0,503.4 C565.8,503.7 569.7,503.9 574.6,504.3 C579.5,504.7 584.3,505.3 589.2,505.8 C594.1,506.3 598.9,506.9 603.8,507.5 C608.7,508.1 614.3,509.0 618.4,509.7 C622.5,510.4 625.4,510.8 628.6,511.9 C631.8,513.0 634.7,514.7 637.4,516.3 C640.1,517.9 642.6,519.6 644.7,521.4 C646.8,523.2 648.5,525.1 649.8,527.2 C651.1,529.3 651.8,531.7 652.3,533.8 C652.8,535.9 652.7,537.6 652.7,539.6 C652.7,541.6 652.5,543.8 652.3,545.5 C652.0,547.2 651.7,548.6 651.2,550.0 C650.7,551.4 650.4,552.7 649.5,554.0 C648.6,555.3 647.9,556.6 646.1,558.0 C644.3,559.4 641.5,561.0 638.8,562.3 C636.1,563.6 633.5,564.8 630.1,566.0 C626.7,567.2 622.8,568.4 618.4,569.6 C614.0,570.8 608.7,572.2 603.8,573.3 C598.9,574.4 594.1,575.5 589.2,576.2 C584.3,577.0 579.5,577.3 574.6,577.8 C569.7,578.3 564.5,578.8 560.0,579.2 C555.5,579.6 552.1,580.0 547.6,580.4 C543.1,580.8 537.9,581.4 533.0,581.9 C528.1,582.4 523.3,582.9 518.4,583.4 C513.5,583.9 508.7,584.5 503.8,585.1 C498.9,585.7 494.1,586.2 489.2,586.7 C484.3,587.2 479.5,587.7 474.6,588.2 C469.7,588.7 469.0,588.9 460.0,589.6 C451.0,590.3 431.1,591.6 420.6,592.5 C410.1,593.4 404.5,594.2 397.2,594.8 C389.9,595.4 385.1,595.9 376.8,596.3 C368.5,596.7 357.3,597.2 347.6,597.4 C337.9,597.6 327.2,597.6 318.4,597.7 C309.6,597.8 301.2,598.0 295.0,598.0 C288.8,598.0 283.8,598.0 281.4,597.6 C278.9,597.2 282.4,596.0 280.3,595.6 C278.2,595.2 272.3,595.3 268.5,595.1 C264.7,594.9 261.9,594.6 257.3,594.3 C252.8,594.0 246.6,593.8 241.2,593.5 C235.8,593.2 230.4,593.0 225.1,592.7 C219.8,592.4 213.5,592.2 209.1,591.9 C204.7,591.6 201.4,591.5 198.7,591.1 C196.0,590.8 194.5,590.3 193.0,589.8 C191.5,589.3 190.5,588.7 189.8,588.2 C189.1,587.7 188.8,586.9 188.6,586.6" fill="none" stroke="#FBA50C" stroke-width="1.70" stroke-linejoin="round" stroke-linecap="round" />
<path d="M198.8,590.6 L204.2,591.2 L204.2,593.2 L199.5,593.0 Z" fill="#FBA50C"/>
<path d="M268.6,594.4 L281.5,596.6 L281.5,598.3 L269,597.6 Z" fill="#FBA50C"/>
<text x="406.43 413.78 421.74 427.87" y="548.80" font-size="12.40" fill="#111" color="#111" >PDLA</text>
<rect x="547.3" y="588.3" width="122.2" height="19.4" rx="3" fill="#EAEAF2" stroke="#D4D4DA" stroke-width="0.9"/>
<rect x="551.8" y="592.8" width="25.5" height="8.9" fill="rgba(255,165,0,0.3)"/>
<text x="585.32 593.34 599.35 602.69 605.36 615.38 622.06 625.40 632.09 638.78 642.12 648.81 656.83" y="601.70" font-size="12.60" fill="#1e1e1e" color="#1e1e1e" >Estimated LVP</text>
<text x="135.83 145.17" y="551.00" font-size="16.80" fill="#1e1e1e" color="#1e1e1e" >50</text>
<text x="145.17" y="615.20" font-size="16.80" fill="#1e1e1e" color="#1e1e1e" >0</text>
<text x="147.48 157.21 166.48 175.75 180.38" y="636.30" font-size="16.50" fill="#1e1e1e" color="#1e1e1e" >−10.0</text>
<text x="209.38 219.11 228.38 233.01" y="636.30" font-size="16.50" fill="#1e1e1e" color="#1e1e1e" >−7.5</text>
<text x="266.39 276.12 285.39 290.02" y="636.30" font-size="16.50" fill="#1e1e1e" color="#1e1e1e" >−5.0</text>
<text x="323.66 333.39 342.66 347.29" y="636.30" font-size="16.50" fill="#1e1e1e" color="#1e1e1e" >−2.5</text>
<text x="385.66 394.93 399.56" y="636.30" font-size="16.50" fill="#1e1e1e" color="#1e1e1e" >0.0</text>
<text x="442.80 452.07 456.70" y="636.30" font-size="16.50" fill="#1e1e1e" color="#1e1e1e" >2.5</text>
<text x="499.94 509.20 513.83" y="636.30" font-size="16.50" fill="#1e1e1e" color="#1e1e1e" >5.0</text>
<text x="557.07 566.34 570.97" y="636.30" font-size="16.50" fill="#1e1e1e" color="#1e1e1e" >7.5</text>
<text x="609.32 618.59 627.85 632.48" y="636.30" font-size="16.50" fill="#1e1e1e" color="#1e1e1e" >10.0</text>
<text x="337.82 351.77 356.06 365.71 376.45 380.74 391.48 401.13 411.87 427.95 438.69 449.43 454.79 460.15 466.58 482.67 498.75" y="656.60" font-size="17.60" fill="#1e1e1e" color="#1e1e1e" >Displacement (mm)</text>
<text x="5.48 15.80 26.12 31.28 36.44 41.59 53.97 64.30 74.62 79.77 85.96 90.08 99.36 109.68 113.81 124.13" y="543.10" font-size="18.20" fill="#1e1e1e" color="#1e1e1e" >Left Ventricular</text>
<text x="30.08 42.67 48.96 59.45 68.89 78.33 88.83 95.12" y="562.40" font-size="18.20" fill="#1e1e1e" color="#1e1e1e" >Pressure</text>
<text x="34.25 40.56 56.35 72.15 85.84 96.38" y="580.80" font-size="18.20" fill="#1e1e1e" color="#1e1e1e" >(mmHg)</text>
<rect x="676" y="504.2" width="1.4" height="2.2" fill="#888"/><rect x="676" y="512.6" width="1.4" height="2.2" fill="#888"/>
</svg></body></html>
